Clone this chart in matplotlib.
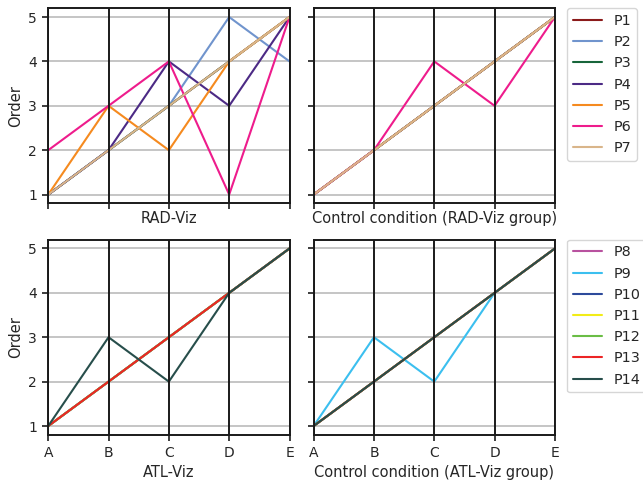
import matplotlib
matplotlib.use('Agg')
import matplotlib.pyplot as plt
import seaborn as sns

sns.set_style('ticks')

steps = ['A', 'B', 'C', 'D', 'E']

# order of each participant per condition
rad_names = ['P1', 'P2', 'P3', 'P4', 'P5', 'P6', 'P7']
rad_colors = ['#8B1A1A', '#7094CD', '#17653A', '#4C2A85', '#F58A1F', '#EE1C8C', '#D9B58A']
rad_viz = [
    [1, 2, 3, 4, 5],
    [1, 2, 3, 5, 4],
    [1, 2, 3, 4, 5],
    [1, 2, 4, 3, 5],
    [1, 3, 2, 4, 5],
    [2, 3, 4, 1, 5],
    [1, 2, 3, 4, 5],
]
rad_ctrl = [
    [1, 2, 3, 4, 5],
    [1, 2, 3, 4, 5],
    [1, 2, 3, 4, 5],
    [1, 2, 3, 4, 5],
    [1, 2, 3, 4, 5],
    [1, 2, 4, 3, 5],
    [1, 2, 3, 4, 5],
]

atl_names = ['P8', 'P9', 'P10', 'P11', 'P12', 'P13', 'P14']
atl_colors = ['#B8529F', '#3BBFEF', '#2D4A9B', '#F2EC17', '#6ABD45', '#EC2425', '#274E4B']
atl_viz = [
    [1, 2, 3, 4, 5],
    [1, 2, 3, 4, 5],
    [1, 2, 3, 4, 5],
    [1, 2, 3, 4, 5],
    [1, 2, 3, 4, 5],
    [1, 2, 3, 4, 5],
    [1, 3, 2, 4, 5],
]
atl_ctrl = [
    [1, 2, 3, 4, 5],
    [1, 3, 2, 4, 5],
    [1, 2, 3, 4, 5],
    [1, 2, 3, 4, 5],
    [1, 2, 3, 4, 5],
    [1, 2, 3, 4, 5],
    [1, 2, 3, 4, 5],
]

fig, axs = plt.subplots(2, 2, figsize=(6.43, 4.8), dpi=100, sharex=True, sharey=True)
fig.subplots_adjust(left=0.075, right=0.863, top=0.983, bottom=0.094, hspace=0.185, wspace=0.1)

panels = [
    (axs[0, 0], rad_viz, rad_names, rad_colors, 'RAD-Viz', 1),
    (axs[0, 1], rad_ctrl, rad_names, rad_colors, 'Control condition (RAD-Viz group)', 1),
    (axs[1, 0], atl_viz, atl_names, atl_colors, 'ATL-Viz', 3.5),
    (axs[1, 1], atl_ctrl, atl_names, atl_colors, 'Control condition (ATL-Viz group)', 3.5),
]

x = list(range(len(steps)))
for ax, data, names, colors, label, pad in panels:
    for vals, name, c in zip(data, names, colors):
        ax.plot(x, vals, color=c, lw=1.5, label=name)
    for xi in x:
        ax.axvline(xi, color='#1a1a1a', lw=1.4)
    ax.grid(axis='y', color='#BBBBBB', lw=1.2)
    ax.set_axisbelow(True)
    ax.set_xticks(x)
    ax.set_xticklabels(steps)
    ax.set_xlim(x[0], x[-1])
    ax.set_xlabel(label, fontsize=10.5, labelpad=pad)
    ax.tick_params(width=1.25, length=4.5)
    for sp in ax.spines.values():
        sp.set_color('#1a1a1a')
        sp.set_linewidth(1.4)

axs[0, 0].set_ylim(0.8, 5.2)
axs[0, 0].set_yticks([1, 2, 3, 4, 5])
axs[0, 0].set_ylabel('Order', fontsize=10.5)
axs[1, 0].set_ylabel('Order', fontsize=10.5)

for ax in axs[:, 1]:
    ax.legend(loc='upper left', bbox_to_anchor=(1.05, 1), borderaxespad=0, fontsize=10.4)

fig.savefig('out.png', dpi=100)
